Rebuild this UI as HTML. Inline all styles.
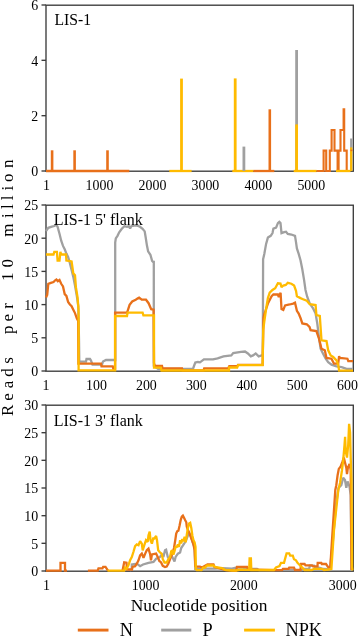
<!DOCTYPE html>
<html><head><meta charset="utf-8"><title>LIS-1 reads</title>
<style>html,body{margin:0;padding:0;background:#fff;width:358px;height:637px;overflow:hidden}text{font-family:"Liberation Serif",serif}</style>
</head><body>
<svg width="358" height="637" viewBox="0 0 358 637" style="display:block">
<rect width="358" height="637" fill="#fff"/>
<g><rect x="46" y="5.2" width="307.3" height="166" fill="none" stroke="#3c3c3c" stroke-width="1.35"/><rect x="46" y="205.2" width="307.3" height="166" fill="none" stroke="#3c3c3c" stroke-width="1.35"/><rect x="46" y="405.2" width="307.3" height="166" fill="none" stroke="#3c3c3c" stroke-width="1.35"/><line x1="41.5" y1="171.0" x2="46" y2="171.0" stroke="#3c3c3c" stroke-width="1.35"/><line x1="41.5" y1="115.7" x2="46" y2="115.7" stroke="#3c3c3c" stroke-width="1.35"/><line x1="41.5" y1="60.3" x2="46" y2="60.3" stroke="#3c3c3c" stroke-width="1.35"/><line x1="41.5" y1="5.0" x2="46" y2="5.0" stroke="#3c3c3c" stroke-width="1.35"/><line x1="41.5" y1="371.0" x2="46" y2="371.0" stroke="#3c3c3c" stroke-width="1.35"/><line x1="41.5" y1="337.8" x2="46" y2="337.8" stroke="#3c3c3c" stroke-width="1.35"/><line x1="41.5" y1="304.6" x2="46" y2="304.6" stroke="#3c3c3c" stroke-width="1.35"/><line x1="41.5" y1="271.4" x2="46" y2="271.4" stroke="#3c3c3c" stroke-width="1.35"/><line x1="41.5" y1="238.2" x2="46" y2="238.2" stroke="#3c3c3c" stroke-width="1.35"/><line x1="41.5" y1="205.0" x2="46" y2="205.0" stroke="#3c3c3c" stroke-width="1.35"/><line x1="41.5" y1="571.0" x2="46" y2="571.0" stroke="#3c3c3c" stroke-width="1.35"/><line x1="41.5" y1="543.3" x2="46" y2="543.3" stroke="#3c3c3c" stroke-width="1.35"/><line x1="41.5" y1="515.7" x2="46" y2="515.7" stroke="#3c3c3c" stroke-width="1.35"/><line x1="41.5" y1="488.0" x2="46" y2="488.0" stroke="#3c3c3c" stroke-width="1.35"/><line x1="41.5" y1="460.3" x2="46" y2="460.3" stroke="#3c3c3c" stroke-width="1.35"/><line x1="41.5" y1="432.7" x2="46" y2="432.7" stroke="#3c3c3c" stroke-width="1.35"/><line x1="41.5" y1="405.0" x2="46" y2="405.0" stroke="#3c3c3c" stroke-width="1.35"/></g>
<g><line x1="46" y1="171" x2="129.3" y2="171" stroke="#E8701A" stroke-width="2.3"/><line x1="52.1" y1="171" x2="52.1" y2="150.3" stroke="#E8701A" stroke-width="2.6"/><line x1="74.6" y1="171" x2="74.6" y2="150.3" stroke="#E8701A" stroke-width="2.6"/><line x1="107.5" y1="171" x2="107.5" y2="150.3" stroke="#E8701A" stroke-width="2.6"/><line x1="169.3" y1="171" x2="191.6" y2="171" stroke="#FFBB00" stroke-width="2.3"/><line x1="181.5" y1="171" x2="181.5" y2="78.6" stroke="#FFBB00" stroke-width="2.8"/><line x1="232.3" y1="171" x2="253.5" y2="171" stroke="#FFBB00" stroke-width="2.3"/><line x1="235.2" y1="171" x2="235.2" y2="78.4" stroke="#FFBB00" stroke-width="2.8"/><line x1="243.9" y1="171" x2="243.9" y2="146.6" stroke="#A0A0A0" stroke-width="2.8"/><line x1="253.5" y1="171" x2="274.3" y2="171" stroke="#E8701A" stroke-width="2.3"/><line x1="269.8" y1="171" x2="269.8" y2="109.3" stroke="#E8701A" stroke-width="2.6"/><line x1="296.6" y1="171" x2="296.6" y2="50" stroke="#A0A0A0" stroke-width="2.8"/><line x1="293.7" y1="171" x2="316.6" y2="171" stroke="#FFBB00" stroke-width="2.3"/><line x1="296.6" y1="171" x2="296.6" y2="124.4" stroke="#FFBB00" stroke-width="2.8"/><polyline points="316.6,171.0 323.6,171.0 323.6,150.6 326.2,150.6 326.2,171.0 329.8,171.0 329.8,150.6 331.6,150.6 331.6,130.0 334.5,130.0 334.5,150.6 337.6,150.6 337.6,171.0 338.6,171.0 338.6,150.6 340.5,150.6 340.5,130.0 343.6,130.0 343.6,109.2 344.2,109.2 344.2,150.6 346.7,150.6 346.7,171.0" fill="none" stroke="#E8701A" stroke-width="2.1" stroke-linejoin="miter" stroke-miterlimit="2"/><line x1="336" y1="171" x2="350.5" y2="171" stroke="#FFBB00" stroke-width="2.3"/><line x1="351.2" y1="171" x2="351.2" y2="138.5" stroke="#A0A0A0" stroke-width="2.2"/><line x1="351.2" y1="171" x2="351.2" y2="147.4" stroke="#FFBB00" stroke-width="2.2"/><line x1="350.5" y1="150.4" x2="352.5" y2="150.4" stroke="#E8701A" stroke-width="1.5"/></g>
<g><polyline points="46.0,231.2 48.3,227.8 51.8,226.6 54.3,226.0 56.0,224.8 57.5,226.5 59.5,233.8 61.2,240.7 63.0,245.9 64.7,249.3 66.4,253.6 68.1,257.0 69.9,263.1 71.6,270.0 73.3,276.9 75.0,285.5 76.8,295.9 78.3,306.0 79.0,340.0 79.3,361.7 86.0,361.7 86.5,359.0 90.0,359.0 91.0,360.5 92.5,364.6 102.0,364.6 103.0,361.5 106.0,360.0 115.2,360.0 115.2,242.7 115.8,238.3 117.5,235.8 119.2,232.3 121.8,228.8 124.4,226.2 127.0,226.8 128.8,226.2 130.1,228.5 131.3,226.2 134.0,225.7 137.4,225.7 140.0,226.8 142.6,228.8 144.7,231.4 145.7,237.5 146.9,245.3 148.1,251.3 150.4,254.8 152.1,260.8 153.3,262.0 153.8,262.0 153.8,366.0 158.0,368.8 193.0,368.8 194.0,366.0 195.3,362.6 198.0,362.0 200.0,362.3 203.9,359.3 213.0,359.3 217.6,358.4 223.5,356.4 231.3,355.4 233.2,353.1 241.0,351.9 245.0,351.5 247.9,353.5 250.8,356.4 253.0,355.4 255.7,353.5 258.7,356.4 261.6,355.4 262.8,355.4 263.1,259.3 264.3,253.9 266.1,243.9 267.9,237.6 270.7,235.8 272.5,233.1 273.4,228.6 276.1,227.7 277.9,223.1 279.3,221.9 280.5,223.1 281.5,233.1 284.2,232.2 286.0,231.7 287.8,234.0 291.4,234.5 295.0,235.8 296.0,242.1 296.9,248.4 298.7,253.9 300.5,260.2 302.3,269.2 304.1,280.1 305.5,290.0 307.2,296.7 309.7,303.4 313.1,308.4 315.6,313.5 317.3,323.5 318.9,336.9 320.6,348.7 323.1,353.7 325.7,358.7 328.2,362.1 331.5,364.6 336.5,366.3 341.6,367.1 346.6,368.8 352.5,368.8" fill="none" stroke="#A0A0A0" stroke-width="2.3" stroke-linejoin="miter" stroke-miterlimit="2"/><polyline points="46.0,297.6 47.2,295.0 48.3,283.8 50.9,282.9 53.5,282.0 55.2,280.3 56.4,279.5 57.8,281.2 59.5,280.0 61.2,283.8 63.0,286.4 64.7,294.1 66.4,295.9 68.1,301.9 69.9,304.5 71.6,306.2 73.3,309.7 75.0,313.1 76.8,318.3 78.2,321.0 78.4,363.7 101.0,363.7 101.5,366.3 112.7,366.3 113.3,368.5 115.1,368.5 115.1,312.7 127.0,312.7 127.9,310.1 129.6,304.9 132.2,301.5 135.7,299.7 137.5,298.5 139.1,297.7 141.7,299.7 146.0,299.7 148.6,303.2 151.2,309.2 153.6,309.7 154.0,363.0 155.0,366.0 162.0,366.0 162.5,368.3 182.0,368.3 182.6,370.4 203.6,370.4 204.2,368.3 228.4,368.3 229.3,366.2 237.2,366.2 238.0,364.8 262.6,364.8 263.5,318.0 264.3,314.4 266.1,309.0 267.9,303.6 269.7,300.0 271.6,296.3 273.4,294.5 277.9,294.5 278.8,297.0 280.6,292.7 281.5,309.0 283.3,309.9 285.1,305.4 289.6,304.5 293.2,303.6 295.0,302.7 296.9,310.8 298.7,313.5 300.5,318.0 302.3,323.4 306.8,324.3 309.5,327.0 310.6,330.2 316.4,331.1 319.0,338.6 321.5,348.7 324.8,350.3 326.5,357.9 331.5,358.7 334.0,363.7 338.2,363.7 339.1,356.2 339.9,357.9 347.4,358.7 348.3,361.2 353.0,361.2" fill="none" stroke="#E8701A" stroke-width="2.3" stroke-linejoin="miter" stroke-miterlimit="2"/><polyline points="46.0,254.5 53.5,254.5 54.3,251.9 56.9,251.9 57.6,260.5 59.5,260.5 60.4,251.9 61.2,254.5 66.0,254.5 66.4,260.5 71.6,261.4 73.3,273.4 75.0,275.2 75.9,287.2 77.6,297.6 78.5,309.7 78.6,320.0 78.6,370.3 115.1,370.3 115.1,316.0 127.0,316.0 127.6,312.7 142.6,312.7 143.4,315.3 152.6,315.3 154.0,315.3 154.0,367.7 160.9,367.7 161.5,370.5 229.0,370.5 229.0,367.5 237.2,367.5 238.1,365.2 262.6,365.2 263.2,330.0 264.3,321.6 266.1,309.0 267.9,298.1 269.7,292.7 272.5,290.0 275.2,288.2 277.9,283.3 280.5,283.5 281.5,287.3 283.3,285.5 285.8,285.0 287.8,282.8 291.4,283.7 294.1,285.5 296.0,290.9 296.9,296.3 300.5,298.1 303.0,299.2 306.8,300.8 309.7,304.2 315.6,305.1 316.4,315.1 319.8,316.0 321.5,340.3 326.5,341.1 328.2,350.3 330.7,355.4 333.2,357.0 336.5,360.4 338.2,364.6 339.1,370.6 353.0,370.6" fill="none" stroke="#FFBB00" stroke-width="2.3" stroke-linejoin="miter" stroke-miterlimit="2"/></g>
<g><polyline points="130.0,570.6 131.8,568.7 131.8,564.5 136.8,563.7 140.1,566.2 143.0,564.5 148.5,562.8 153.5,562.0 156.1,558.7 158.6,557.8 160.0,556.9 161.7,554.7 163.4,556.9 165.0,550.2 166.1,549.7 167.8,556.9 169.5,559.2 171.2,554.7 172.8,558.0 174.5,561.4 175.6,556.9 177.9,553.6 180.1,552.5 181.2,548.0 183.5,544.6 185.7,541.3 187.9,535.7 189.3,533.5 190.7,535.7 192.4,541.3 193.5,544.6 194.6,548.0 195.3,570.2 197.0,568.6 215.0,568.6 222.0,568.2 232.0,568.6 236.0,567.6 243.0,567.6 246.0,568.5 252.0,568.8 257.0,568.8 259.0,570.2 302.0,570.0 304.0,568.8 309.0,568.8 310.0,565.6 314.0,565.6 315.0,567.5 320.0,567.8 323.0,569.0 330.0,569.2 333.0,540.0 336.0,505.0 338.5,488.0 341.3,485.2 343.2,477.7 345.0,480.0 346.3,487.8 347.6,481.5 349.5,486.5 350.7,495.0 351.5,570.0" fill="none" stroke="#A0A0A0" stroke-width="2.3" stroke-linejoin="miter" stroke-miterlimit="2"/><polyline points="46.0,570.7 60.5,570.7 60.5,562.8 65.0,562.8 65.0,570.7 67.0,570.7" fill="none" stroke="#E8701A" stroke-width="2.3" stroke-linejoin="miter" stroke-miterlimit="2"/><polyline points="87.9,570.7 97.7,570.7 98.5,568.3 102.5,568.3 103.2,566.8 105.5,566.8 106.5,568.5 108.0,570.7" fill="none" stroke="#E8701A" stroke-width="2.3" stroke-linejoin="miter" stroke-miterlimit="2"/><polyline points="122.5,570.7 124.2,562.3 126.5,562.8 127.0,569.5 132.0,569.5 132.6,567.0 135.1,566.2 136.8,563.7 138.5,560.3 140.1,555.3 141.8,553.6 143.5,557.8 145.2,553.6 146.8,550.3 148.5,548.6 150.2,554.5 151.0,560.3 151.9,554.5 156.1,553.6 157.7,557.0 159.4,561.2 160.0,561.4 161.1,562.5 162.8,565.9 165.0,567.0 166.7,566.5 168.4,563.6 170.1,559.2 172.3,553.6 174.0,548.0 175.1,541.3 176.2,533.5 177.3,531.2 178.4,530.7 179.6,525.6 180.7,520.1 181.8,516.7 182.9,515.6 184.0,517.8 185.1,520.1 186.3,522.3 186.8,526.8 187.9,530.1 189.1,532.3 190.7,536.8 192.4,541.3 193.5,544.6 194.6,550.2 195.4,566.2 196.7,566.7 200.0,566.7 202.0,567.5 207.5,564.5 213.5,564.5 214.5,567.0 226.0,570.2 236.0,570.6 237.0,566.8 247.0,566.8 248.0,569.5 274.0,570.2 282.0,570.2 283.0,568.8 288.5,568.8 289.2,567.6 294.0,567.6 295.0,570.0 300.5,570.0 301.0,564.0 304.6,564.0 305.5,565.3 312.0,565.3 313.0,566.4 317.5,566.4 317.7,562.8 321.3,562.8 321.8,564.0 326.0,564.0 328.0,567.0 330.2,568.5 332.0,540.0 335.3,490.0 336.3,485.2 337.6,475.2 338.8,468.9 340.7,466.4 342.6,461.4 343.8,457.6 345.0,462.5 346.3,467.7 347.0,474.0 347.9,467.7 349.5,463.9 350.7,470.0 351.5,570.0" fill="none" stroke="#E8701A" stroke-width="2.3" stroke-linejoin="miter" stroke-miterlimit="2"/><polyline points="107.5,570.7 124.2,570.7 125.0,567.5 126.6,568.7 128.4,565.4 130.1,560.3 131.8,557.0 133.4,552.0 135.1,546.1 136.8,544.4 138.5,545.2 140.1,541.1 141.8,543.6 142.7,550.3 144.3,545.2 146.0,540.2 147.7,541.9 148.5,535.2 149.7,531.5 150.5,540.2 151.9,543.6 153.2,538.5 154.4,538.5 156.1,536.0 157.0,540.2 158.2,550.3 160.0,552.5 161.7,553.6 162.8,559.2 164.5,562.5 166.7,562.5 168.4,559.2 170.1,556.9 171.2,551.3 172.3,550.2 173.4,554.7 174.5,551.3 175.6,546.9 176.8,546.9 177.9,544.6 179.0,546.9 180.1,540.2 181.2,543.5 182.3,539.0 183.5,541.3 184.6,536.8 185.7,542.4 186.8,534.6 187.9,527.9 189.1,523.4 190.2,522.8 191.3,527.9 192.4,535.7 193.5,540.2 194.6,542.4 195.5,546.9 195.8,569.0 196.8,570.2 201.5,570.2 203.0,567.6 205.0,567.6 207.0,565.5 213.5,565.5 215.0,567.0 217.5,567.3 222.0,568.0 225.0,569.8 232.0,570.5 236.0,570.5 241.0,569.5 247.0,569.8 249.2,569.8 249.6,558.4 250.9,558.4 251.3,570.0 274.0,570.0 276.0,567.5 279.5,566.0 281.0,562.8 284.0,562.8 285.6,556.9 286.6,553.3 289.2,553.3 290.2,555.7 292.8,555.7 294.0,559.3 296.0,560.3 297.5,562.8 299.9,565.2 302.3,567.6 304.6,570.0 311.8,570.0 314.0,568.8 322.0,568.8 324.0,570.0 328.4,569.5 331.4,569.0 334.0,530.0 338.3,490.0 340.1,482.7 342.0,470.2 343.2,460.2 344.5,445.1 345.1,436.9 345.7,451.0 347.0,457.6 348.2,445.0 349.1,423.8 350.1,432.5 350.7,457.6 351.5,480.0 352.1,567.0 352.5,570.5" fill="none" stroke="#FFBB00" stroke-width="2.3" stroke-linejoin="miter" stroke-miterlimit="2"/></g>
<g><line x1="77.8" y1="630.1" x2="108.5" y2="630.1" stroke="#E8701A" stroke-width="2.9"/><line x1="161.2" y1="630.1" x2="191.3" y2="630.1" stroke="#A0A0A0" stroke-width="2.9"/><line x1="244.1" y1="630.1" x2="274.9" y2="630.1" stroke="#FFBB00" stroke-width="2.9"/></g>
<g fill="#000" style="font-family:&quot;Liberation Serif&quot;,serif;will-change:transform"><text x="38.1" y="176.4" font-size="13.9" text-anchor="end" >0</text><text x="38.1" y="121.06666666666666" font-size="13.9" text-anchor="end" >2</text><text x="38.1" y="65.73333333333333" font-size="13.9" text-anchor="end" >4</text><text x="38.1" y="10.4" font-size="13.9" text-anchor="end" >6</text><text x="38.1" y="376.4" font-size="13.9" text-anchor="end" >0</text><text x="38.1" y="343.2" font-size="13.9" text-anchor="end" >5</text><text x="38.1" y="310.0" font-size="13.9" text-anchor="end" >10</text><text x="38.1" y="276.79999999999995" font-size="13.9" text-anchor="end" >15</text><text x="38.1" y="243.6" font-size="13.9" text-anchor="end" >20</text><text x="38.1" y="210.4" font-size="13.9" text-anchor="end" >25</text><text x="38.1" y="576.4" font-size="13.9" text-anchor="end" >0</text><text x="38.1" y="548.7333333333333" font-size="13.9" text-anchor="end" >5</text><text x="38.1" y="521.0666666666666" font-size="13.9" text-anchor="end" >10</text><text x="38.1" y="493.4" font-size="13.9" text-anchor="end" >15</text><text x="38.1" y="465.7333333333333" font-size="13.9" text-anchor="end" >20</text><text x="38.1" y="438.0666666666666" font-size="13.9" text-anchor="end" >25</text><text x="38.1" y="410.4" font-size="13.9" text-anchor="end" >30</text><text x="46.6" y="190" font-size="13.9" text-anchor="middle" >1</text><text x="99.5" y="190" font-size="13.9" text-anchor="middle" >1000</text><text x="152.5" y="190" font-size="13.9" text-anchor="middle" >2000</text><text x="205.4" y="190" font-size="13.9" text-anchor="middle" >3000</text><text x="258.3" y="190" font-size="13.9" text-anchor="middle" >4000</text><text x="311.3" y="190" font-size="13.9" text-anchor="middle" >5000</text><text x="46" y="390" font-size="13.9" text-anchor="middle" >1</text><text x="96.5" y="390" font-size="13.9" text-anchor="middle" >100</text><text x="146.4" y="390" font-size="13.9" text-anchor="middle" >200</text><text x="196.3" y="390" font-size="13.9" text-anchor="middle" >300</text><text x="246.8" y="390" font-size="13.9" text-anchor="middle" >400</text><text x="297.2" y="390" font-size="13.9" text-anchor="middle" >500</text><text x="347.5" y="390" font-size="13.9" text-anchor="middle" >600</text><text x="46.5" y="590" font-size="13.9" text-anchor="middle" >1</text><text x="145.6" y="590" font-size="13.9" text-anchor="middle" >1000</text><text x="243.8" y="590" font-size="13.9" text-anchor="middle" >2000</text><text x="342.7" y="590" font-size="13.9" text-anchor="middle" >3000</text><text x="54.5" y="24.6" font-size="15.7" text-anchor="start" >LIS-1</text><text x="53.7" y="225.2" font-size="16" text-anchor="start" >LIS-1 5&#39; flank</text><text x="53.7" y="425.6" font-size="16" text-anchor="start" >LIS-1 3&#39; flank</text><text x="199" y="611" font-size="17.4" text-anchor="middle" >Nucleotide position</text><text x="0" y="0" font-size="17" text-anchor="middle" transform="translate(13.4,410.45) rotate(-90)">R</text><text x="0" y="0" font-size="17" text-anchor="middle" transform="translate(13.4,396.95) rotate(-90)">e</text><text x="0" y="0" font-size="17" text-anchor="middle" transform="translate(13.4,384.6) rotate(-90)">a</text><text x="0" y="0" font-size="17" text-anchor="middle" transform="translate(13.4,372.5) rotate(-90)">d</text><text x="0" y="0" font-size="17" text-anchor="middle" transform="translate(13.4,360.4) rotate(-90)">s</text><text x="0" y="0" font-size="17" text-anchor="middle" transform="translate(13.4,329.65) rotate(-90)">p</text><text x="0" y="0" font-size="17" text-anchor="middle" transform="translate(13.4,317.85) rotate(-90)">e</text><text x="0" y="0" font-size="17" text-anchor="middle" transform="translate(13.4,305.85) rotate(-90)">r</text><text x="0" y="0" font-size="17" text-anchor="middle" transform="translate(13.4,276.8) rotate(-90)">1</text><text x="0" y="0" font-size="17" text-anchor="middle" transform="translate(13.4,263.35) rotate(-90)">0</text><text x="0" y="0" font-size="17" text-anchor="middle" transform="translate(13.4,230.1) rotate(-90)">m</text><text x="0" y="0" font-size="17" text-anchor="middle" transform="translate(13.4,215.7) rotate(-90)">i</text><text x="0" y="0" font-size="17" text-anchor="middle" transform="translate(13.4,206.65) rotate(-90)">l</text><text x="0" y="0" font-size="17" text-anchor="middle" transform="translate(13.4,197.85) rotate(-90)">l</text><text x="0" y="0" font-size="17" text-anchor="middle" transform="translate(13.4,188.25) rotate(-90)">i</text><text x="0" y="0" font-size="17" text-anchor="middle" transform="translate(13.4,177.8) rotate(-90)">o</text><text x="0" y="0" font-size="17" text-anchor="middle" transform="translate(13.4,163.8) rotate(-90)">n</text><text x="119.8" y="635.8" font-size="18.3" text-anchor="start" >N</text><text x="202.6" y="635.8" font-size="18.3" text-anchor="start" >P</text><text x="285.5" y="635.8" font-size="18.3" text-anchor="start" >NPK</text></g>
</svg>
</body></html>
